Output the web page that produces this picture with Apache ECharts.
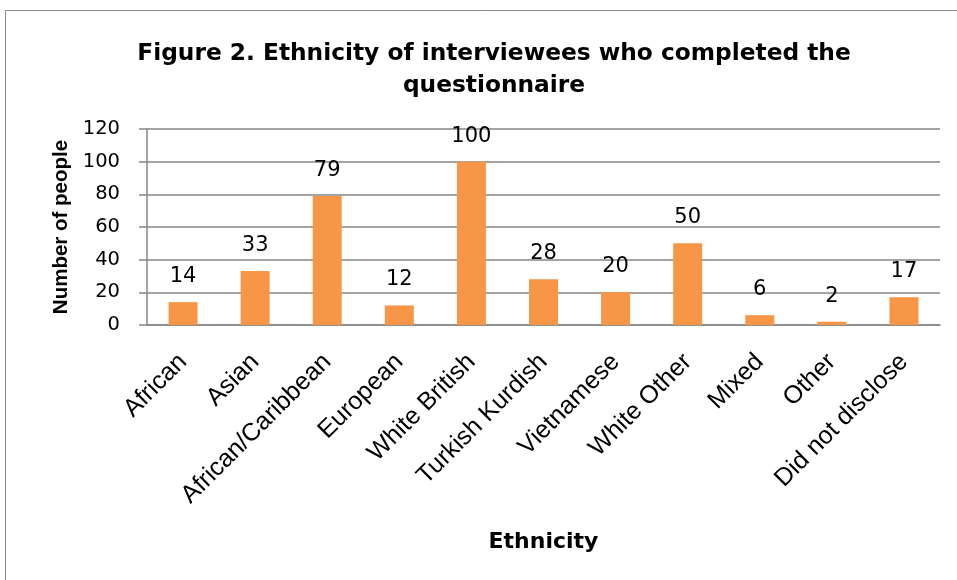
<!DOCTYPE html>
<html><head><meta charset="utf-8">
<script src="https://cdn.jsdelivr.net/npm/echarts@6/dist/echarts.min.js"></script>
<style>html,body{margin:0;padding:0;background:#fff}#c{width:957px;height:580px}</style>
</head><body><div id="c"></div>
<script>
const categories = ["African","Asian","African/Caribbean","European","White British","Turkish Kurdish","Vietnamese","White Other","Mixed","Other","Did not disclose"];
const values = [14,33,79,12,100,28,20,50,6,2,17];
const yTicks = {min:0, max:120, interval:20};

const chart = echarts.init(document.getElementById('c'), null, {renderer:'canvas'});
chart.setOption({
  animation:false,
  backgroundColor:'#fff',
  graphic:[{type:'rect', shape:{x:5.5,y:10.5,width:1000,height:700}, style:{fill:'none',stroke:'#8a8a8a',lineWidth:1}, silent:true}],
  title:{
    text:'Figure 2. Ethnicity of interviewees who completed the\nquestionnaire',
    left:489, top:33, textAlign:'center',
    textStyle:{fontFamily:'DejaVu Sans',fontWeight:'bold',fontSize:23.3,lineHeight:32,color:'#000'}
  },
  grid:{left:147,right:17,top:129,bottom:255,containLabel:false},
  xAxis:{
    type:'category', data:categories,
    name:'Ethnicity', nameLocation:'middle', nameGap:206,
    nameTextStyle:{fontFamily:'DejaVu Sans',fontWeight:'bold',fontSize:22,color:'#000'},
    axisLine:{lineStyle:{color:'#868686',width:1.5}},
    axisTick:{show:false},
    axisLabel:{rotate:45,interval:0,margin:33,fontFamily:'Liberation Sans, Arial',fontSize:25,color:'#000'}
  },
  yAxis:{
    type:'value', min:yTicks.min, max:yTicks.max, interval:yTicks.interval,
    name:'Number of people', nameLocation:'middle', nameGap:75,
    nameTextStyle:{fontFamily:'Liberation Sans, Arial',fontWeight:'bold',fontSize:20.5,color:'#000'},
    axisLine:{show:true,lineStyle:{color:'#868686',width:1.5}},
    axisTick:{show:true,length:8,lineStyle:{color:'#868686',width:1.5}},
    splitLine:{lineStyle:{color:'#868686',width:1.5}},
    axisLabel:{margin:27,fontFamily:'DejaVu Sans',fontSize:19.5,color:'#000'}
  },
  series:[{
    type:'bar', data:values, barWidth:29,
    itemStyle:{color:'#F79646'},
    label:{show:true,position:'top',distance:15,fontFamily:'DejaVu Sans',fontSize:21,color:'#000'}
  }]
});
</script></body></html>
